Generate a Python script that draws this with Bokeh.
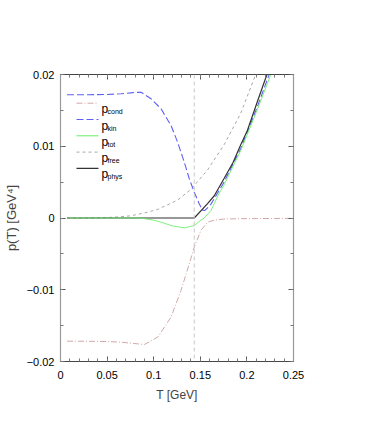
from bokeh.plotting import figure
from bokeh.models import (Range1d, LinearAxis, FixedTicker, Span, Label, Arrow,
                          CustomJSTickFormatter)
from bokeh.embed import file_html
from bokeh.resources import INLINE

# ---------------- data ----------------
T_c = 0.1435

T_cond = [0.007, 0.03, 0.05, 0.065, 0.078, 0.09, 0.1044, 0.1186, 0.1293, 0.1382,
          0.1435, 0.1506, 0.1578, 0.165, 0.175, 0.19, 0.21, 0.25]
p_cond = [-0.01717, -0.01718, -0.01722, -0.01731, -0.01748, -0.01763, -0.0166,
          -0.01382, -0.0101, -0.00638, -0.00407, -0.00174, -0.00058, -0.0003,
          -0.00015, -0.0001, -0.00008, -0.00005]

T_kin = [0.007, 0.03, 0.05, 0.065, 0.078, 0.0865, 0.0972, 0.1079, 0.1186, 0.1257,
         0.1328, 0.1382, 0.1435, 0.1488, 0.1524, 0.155, 0.1613, 0.17, 0.1755,
         0.1934, 0.2112, 0.2236, 0.227]
p_kin = [0.01717, 0.01718, 0.01722, 0.01731, 0.01748, 0.01753, 0.01661, 0.01522,
         0.01289, 0.01056, 0.00778, 0.00546, 0.0036, 0.00198, 0.0011, 0.00105,
         0.0019, 0.0038, 0.0050, 0.0097, 0.0155, 0.0199, 0.0212]

T_tot = [0.007, 0.05, 0.08, 0.0865, 0.1, 0.1079, 0.12, 0.1328, 0.1435, 0.1506,
         0.1542, 0.1613, 0.17, 0.1755, 0.1934, 0.2112, 0.2254, 0.229]
p_tot = [0.0, 0.0, 0.0, -0.00002, -0.0003, -0.00058, -0.0011, -0.00137, -0.00105,
         -0.0003, 0.0, 0.0010, 0.0034, 0.0046, 0.0094, 0.0151, 0.0199, 0.0212]

T_free = [0.007, 0.03, 0.05, 0.0617, 0.075, 0.09, 0.1044, 0.1257, 0.14, 0.1578,
          0.1755, 0.1934, 0.2094, 0.213]
p_free = [0.0, 0.00001, 0.00006, 0.00015, 0.0003, 0.0007, 0.0012, 0.0025, 0.0040,
          0.0067, 0.0102, 0.0146, 0.0200, 0.0214]

T_phys = [0.007, 0.05, 0.1, 0.1435, 0.1578, 0.165, 0.1755, 0.185, 0.1934, 0.2005,
          0.2112, 0.2212, 0.226]
p_phys = [0.0, 0.0, 0.0, 0.0, 0.0020, 0.0031, 0.0055, 0.0077, 0.0102, 0.0122,
          0.0162, 0.0199, 0.0218]

x_ticks = [0.0, 0.05, 0.1, 0.15, 0.2, 0.25]
x_tick_labels = ["0", "0.05", "0.1", "0.15", "0.2", "0.25"]
y_ticks = [-0.02, -0.01, 0.0, 0.01, 0.02]
y_tick_labels = ["\u22120.02", "\u22120.01", "0", "0.01", "0.02"]

legend_subs = ["cond", "kin", "tot", "free", "phys"]

# ---------------- styles ----------------
FONT = "Liberation Sans"
styles = {
    "cond": dict(line_color="#d2a8a8", line_dash="6 2 1 2", line_width=1.0),
    "kin": dict(line_color="#6060f4", line_dash="7 3", line_width=1.1),
    "tot": dict(line_color="#66ee66", line_dash="solid", line_width=1.0),
    "free": dict(line_color="#a8a8a8", line_dash="3 3", line_width=1.0),
    "phys": dict(line_color="#333333", line_dash="solid", line_width=1.2),
}

p = figure(width=374, height=428, x_range=Range1d(0, 0.25), y_range=Range1d(-0.02, 0.02),
           output_backend="svg", toolbar_location=None,
           min_border_left=59, min_border_right=81, min_border_top=74, min_border_bottom=67)
p.outline_line_color = None
p.xgrid.visible = False
p.ygrid.visible = False

x_minor = [round(i * 0.01, 3) for i in range(26)]
y_minor = [round(-0.02 + i * 0.005, 4) for i in range(9)]


def style_axis(ax, line_color):
    ax.major_tick_in = 5
    ax.major_tick_out = 0
    ax.minor_tick_in = 3
    ax.minor_tick_out = 0
    ax.axis_line_color = line_color
    ax.axis_line_width = 1.2
    ax.major_tick_line_color = "#555555"
    ax.minor_tick_line_color = "#777777"
    ax.major_label_text_font = FONT
    ax.major_label_text_font_size = "11px"
    ax.major_label_text_color = "#000000"


xa = p.xaxis[0]
xa.ticker = FixedTicker(ticks=x_ticks, minor_ticks=x_minor)
xa.major_label_overrides = dict(zip(x_ticks, x_tick_labels))
style_axis(xa, "#444444")
xa.major_label_standoff = 9
xa.axis_label = "T [GeV]"
xa.axis_label_text_font = FONT
xa.axis_label_text_font_size = "12px"
xa.axis_label_text_font_style = "normal"
xa.axis_label_standoff = 6

ya = p.yaxis[0]
ya.ticker = FixedTicker(ticks=y_ticks, minor_ticks=y_minor)
ya.major_label_overrides = dict(zip(y_ticks, y_tick_labels))
style_axis(ya, "#9a9a9a")
ya.major_label_standoff = 6
ya.axis_label = "p(T) [GeV\u2074]"
ya.axis_label_text_font = FONT
ya.axis_label_text_font_size = "13px"
ya.axis_label_text_font_style = "normal"
ya.axis_label_standoff = 5

blank = CustomJSTickFormatter(code="return ''")
top = LinearAxis(ticker=FixedTicker(ticks=x_ticks, minor_ticks=x_minor), formatter=blank)
style_axis(top, "#444444")
top.major_label_text_font_size = "1px"
p.add_layout(top, "above")
right = LinearAxis(ticker=FixedTicker(ticks=y_ticks, minor_ticks=y_minor), formatter=blank)
style_axis(right, "#9a9a9a")
right.major_label_text_font_size = "1px"
p.add_layout(right, "right")

p.add_layout(Span(location=T_c, dimension="height", line_color="#c8c8c8",
                  line_dash="4 3", line_width=1))

p.line(T_cond, p_cond, **styles["cond"])
p.line(T_free, p_free, **styles["free"])
p.line(T_kin, p_kin, **styles["kin"])
p.line(T_phys, p_phys, **styles["phys"])
p.line(T_tot, p_tot, line_alpha=0.85, **styles["tot"])

# manual legend (screen units, relative to the plot frame)
for i, name in enumerate(legend_subs):
    sy = 258.3 - 16.3 * i
    st = styles[name]
    p.add_layout(Arrow(end=None, x_start=16, y_start=sy, x_end=38, y_end=sy,
                       start_units="screen", end_units="screen",
                       line_color=st["line_color"], line_dash=st["line_dash"],
                       line_width=st["line_width"]))
    p.add_layout(Label(x=41, y=sy - 6, x_units="screen", y_units="screen", text="p",
                       text_font=FONT, text_font_size="12px",
                       text_baseline="alphabetic", text_color="#000000"))
    p.add_layout(Label(x=47, y=sy - 8.5, x_units="screen", y_units="screen", text=name,
                       text_font=FONT, text_font_size="7px",
                       text_baseline="alphabetic", text_color="#000000"))

open("out.html", "w").write(file_html(p, INLINE))
